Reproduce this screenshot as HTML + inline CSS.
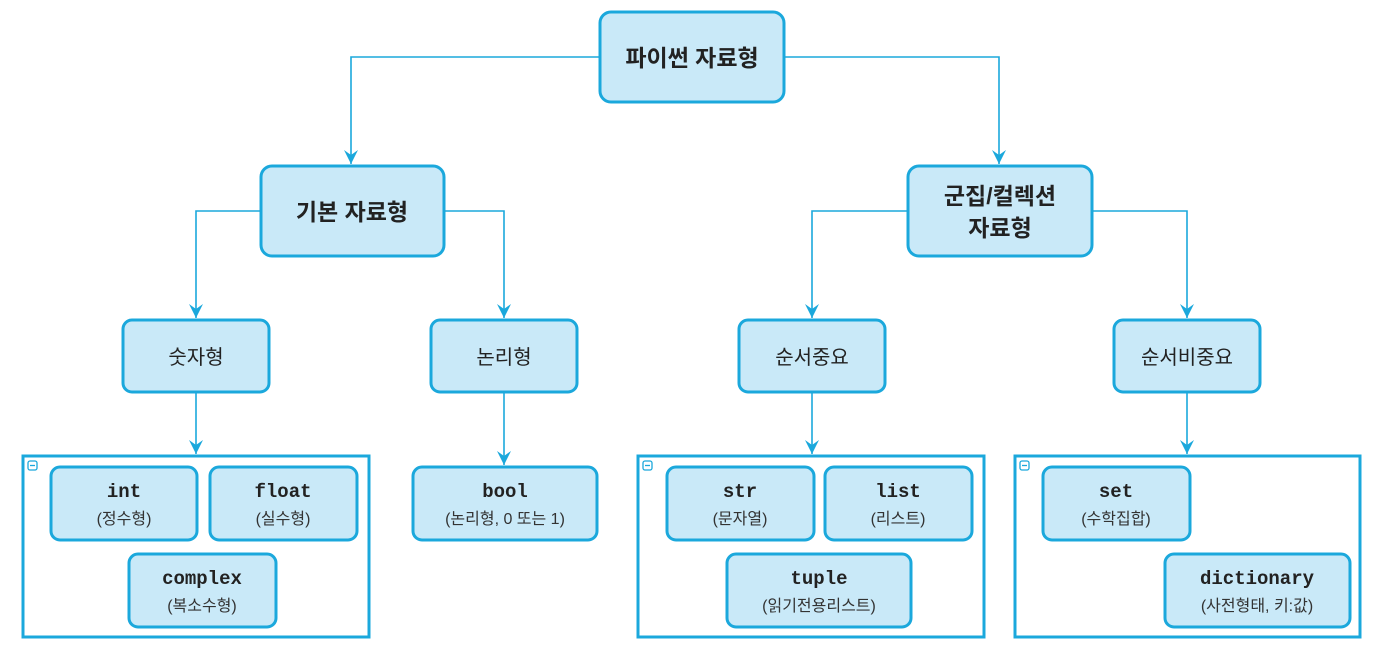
<!DOCTYPE html>
<html><head><meta charset="utf-8"><style>
html,body{margin:0;padding:0;background:#fff;width:1378px;height:653px;overflow:hidden}
svg{display:block}
.b{fill:#c9e9f8;stroke:#1ba8dc;stroke-width:3}
.c{fill:#fff;stroke:#1ba8dc;stroke-width:3}
.l{fill:none;stroke:#1ba8dc;stroke-width:1.6}
.k{font-family:"Liberation Sans","Noto Sans CJK KR",sans-serif;fill:#222;text-anchor:middle}
.m{font-family:"Liberation Mono","DejaVu Sans Mono",monospace;font-weight:bold;fill:#222;text-anchor:middle;font-size:19px}
.s{font-family:"Liberation Sans","Noto Sans CJK KR",sans-serif;fill:#333;text-anchor:middle;font-size:16px}
</style></head><body>
<svg width="1378" height="653" viewBox="0 0 1378 653" xmlns="http://www.w3.org/2000/svg">
<defs><marker id="a" markerWidth="12" markerHeight="14" refX="6" refY="13" orient="auto" markerUnits="userSpaceOnUse"><path d="M0,0 L6,14 L12,0 L6,5 Z" fill="#1ba8dc" transform="rotate(-90 6 7) translate(0,0)"/></marker>
<marker id="d" markerWidth="14" markerHeight="14" refX="7" refY="14" orient="0" markerUnits="userSpaceOnUse"><path d="M0,0 L7,14 L14,0 L7,5 Z" fill="#1ba8dc"/></marker></defs>
<!-- connectors -->
<g class="l">
<path d="M600,57 H351 V164" marker-end="url(#d)"/>
<path d="M784,57 H999 V164" marker-end="url(#d)"/>
<path d="M261,211 H196 V318" marker-end="url(#d)"/>
<path d="M444,211 H504 V318" marker-end="url(#d)"/>
<path d="M908,211 H812 V318" marker-end="url(#d)"/>
<path d="M1092,211 H1187 V318" marker-end="url(#d)"/>
<path d="M196,392 V454" marker-end="url(#d)"/>
<path d="M504,392 V465" marker-end="url(#d)"/>
<path d="M812,392 V454" marker-end="url(#d)"/>
<path d="M1187,392 V454" marker-end="url(#d)"/>
</g>
<!-- top boxes -->
<rect class="b" x="600" y="12" width="184" height="90" rx="11"/>
<text class="k" x="692" y="66" font-size="23" font-weight="bold">파이썬 자료형</text>
<rect class="b" x="261" y="166" width="183" height="90" rx="11"/>
<text class="k" x="352" y="220" font-size="23" font-weight="bold">기본 자료형</text>
<rect class="b" x="908" y="166" width="184" height="90" rx="11"/>
<text class="k" x="1000" y="204" font-size="23" font-weight="bold">군집/컬렉션</text>
<text class="k" x="1000" y="236" font-size="23" font-weight="bold">자료형</text>
<rect class="b" x="123" y="320" width="146" height="72" rx="9"/>
<text class="k" x="196" y="364" font-size="20">숫자형</text>
<rect class="b" x="431" y="320" width="146" height="72" rx="9"/>
<text class="k" x="504" y="364" font-size="20">논리형</text>
<rect class="b" x="739" y="320" width="146" height="72" rx="9"/>
<text class="k" x="812" y="364" font-size="20">순서중요</text>
<rect class="b" x="1114" y="320" width="146" height="72" rx="9"/>
<text class="k" x="1187" y="364" font-size="20">순서비중요</text>
<!-- containers -->
<rect class="c" x="23" y="456" width="346" height="181"/>
<rect class="c" x="638" y="456" width="346" height="181"/>
<rect class="c" x="1015" y="456" width="345" height="181"/>
<g fill="none" stroke="#1ba8dc" stroke-width="1.3">
<rect x="28" y="461" width="9" height="9" rx="2"/><path d="M30,465.5h5"/>
<rect x="643" y="461" width="9" height="9" rx="2"/><path d="M645,465.5h5"/>
<rect x="1020" y="461" width="9" height="9" rx="2"/><path d="M1022,465.5h5"/>
</g>
<!-- leaf boxes -->
<g>
<rect class="b" x="51" y="467" width="146" height="73" rx="9"/>
<text class="m" x="124" y="497">int</text><text class="s" x="124" y="524">(정수형)</text>
<rect class="b" x="210" y="467" width="147" height="73" rx="9"/>
<text class="m" x="283" y="497">float</text><text class="s" x="283" y="524">(실수형)</text>
<rect class="b" x="129" y="554" width="147" height="73" rx="9"/>
<text class="m" x="202" y="584">complex</text><text class="s" x="202" y="611">(복소수형)</text>
<rect class="b" x="413" y="467" width="184" height="73" rx="9"/>
<text class="m" x="505" y="497">bool</text><text class="s" x="505" y="524">(논리형, 0 또는 1)</text>
<rect class="b" x="667" y="467" width="147" height="73" rx="9"/>
<text class="m" x="740" y="497">str</text><text class="s" x="740" y="524">(문자열)</text>
<rect class="b" x="825" y="467" width="147" height="73" rx="9"/>
<text class="m" x="898" y="497">list</text><text class="s" x="898" y="524">(리스트)</text>
<rect class="b" x="727" y="554" width="184" height="73" rx="9"/>
<text class="m" x="819" y="584">tuple</text><text class="s" x="819" y="611">(읽기전용리스트)</text>
<rect class="b" x="1043" y="467" width="147" height="73" rx="9"/>
<text class="m" x="1116" y="497">set</text><text class="s" x="1116" y="524">(수학집합)</text>
<rect class="b" x="1165" y="554" width="185" height="73" rx="9"/>
<text class="m" x="1257" y="584">dictionary</text><text class="s" x="1257" y="611">(사전형태, 키:값)</text>
</g>
</svg>
</body></html>
